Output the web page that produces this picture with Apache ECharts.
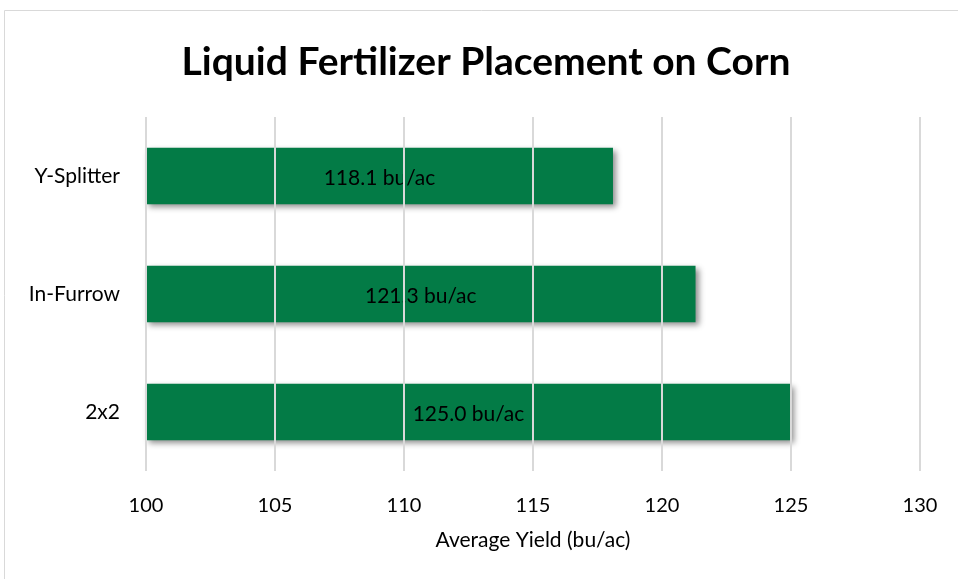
<!DOCTYPE html>
<html>
<head>
<meta charset="utf-8">
<script src="https://cdn.jsdelivr.net/npm/echarts@6/dist/echarts.min.js"></script>
<style>
  html, body { margin: 0; padding: 0; background: #fff; }
  #chart { width: 958px; height: 579px; }
</style>
</head>
<body>
<div id="chart"></div>
<script>
const categories = ['Y-Splitter', 'In-Furrow', '2x2'];
const yieldValues = [118.1, 121.3, 125.0];
const xTicks = [100, 105, 110, 115, 120, 125, 130];

const FONT = 'Lato, "Open Sans", sans-serif';

const chart = echarts.init(document.getElementById('chart'));

chart.setOption({
  animation: false,
  title: {
    text: 'Liquid Fertilizer Placement on Corn',
    left: 481,
    top: 38,
    textAlign: 'center',
    textStyle: { fontFamily: FONT, fontSize: 39, fontWeight: 'bold', color: '#000' }
  },
  graphic: [{
    type: 'rect',
    shape: { x: 4.5, y: 10.5, width: 1000, height: 1000 },
    style: { fill: 'none', stroke: '#d9d9d9', lineWidth: 1 },
    silent: true
  }],
  grid: { left: 146, right: 38, top: 117, bottom: 108 },
  xAxis: {
    type: 'value',
    min: xTicks[0],
    max: xTicks[xTicks.length - 1],
    interval: 5,
    z: 10,
    axisLine: { show: false },
    axisTick: { show: false },
    splitLine: { show: true, lineStyle: { color: '#d9d9d9', width: 2 } },
    axisLabel: { fontFamily: FONT, fontSize: 20, color: '#000', margin: 25 },
    name: 'Average Yield (bu/ac)',
    nameLocation: 'middle',
    nameGap: 59,
    nameTextStyle: { fontFamily: FONT, fontSize: 21, color: '#000' }
  },
  yAxis: {
    type: 'category',
    data: categories,
    inverse: true,
    axisLine: { show: false },
    axisTick: { show: false },
    splitLine: { show: false },
    axisLabel: { fontFamily: FONT, fontSize: 21, color: '#000', margin: 26 }
  },
  series: [{
    type: 'bar',
    data: yieldValues,
    barCategoryGap: '52%',
    itemStyle: {
      color: '#037b46',
      shadowColor: 'rgba(0,0,0,0.45)',
      shadowBlur: 6,
      shadowOffsetX: 3,
      shadowOffsetY: 3
    },
    label: {
      show: true,
      position: 'inside',
      offset: [0, 2],
      formatter: p => p.value.toFixed(1) + ' bu/ac',
      fontFamily: FONT,
      fontSize: 21,
      color: '#000'
    }
  }]
});
</script>
</body>
</html>
